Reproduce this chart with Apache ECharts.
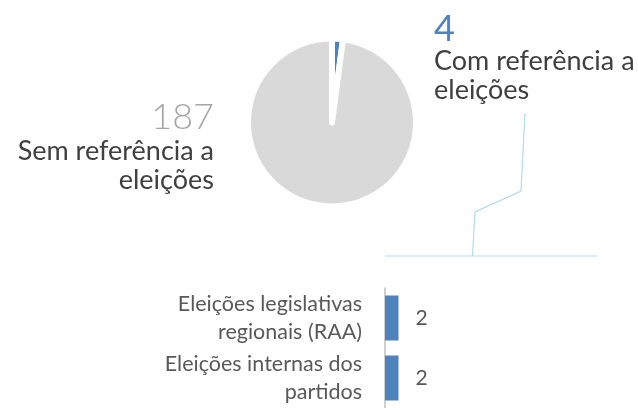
<!DOCTYPE html>
<html>
<head>
<meta charset="utf-8">
<script src="https://cdn.jsdelivr.net/npm/echarts@6/dist/echarts.min.js"></script>
<style>
  html, body { margin: 0; padding: 0; background: #ffffff; }
  #chart { width: 638px; height: 408px; }
</style>
</head>
<body>
<div id="chart"></div>
<script>
// Pie: news items with / without a reference to elections
const pieNames = ['Com referência a eleições', 'Sem referência a eleições'];
const pieValues = [4, 187];

// Breakdown of the items that mention elections
const barCategories = ['Eleições legislativas\nregionais (RAA)', 'Eleições internas dos\npartidos'];
const barValues = [2, 2];

const FONT = 'Lato';
const TEXT = '#404040';
const BLUE = '#4f81bd';
const GREY = '#d9d9d9';
const LINE = '#b4dce9';

const chart = echarts.init(document.getElementById('chart'), null, { renderer: 'canvas' });

function splitName(name) {
  // "Com referência a eleições" -> two lines: "Com referência a" / "eleições"
  const i = name.lastIndexOf(' ');
  return name.slice(0, i) + '\n' + name.slice(i + 1);
}

chart.setOption({
  animation: false,
  backgroundColor: '#ffffff',
  textStyle: { fontFamily: FONT },
  grid: { left: 385, top: 288, width: 200, height: 126, containLabel: false },
  xAxis: {
    type: 'value', min: 0, max: 2 * 200 / 13.5,
    show: false
  },
  yAxis: {
    type: 'category', data: barCategories, inverse: true,
    axisLine: { show: true, lineStyle: { color: '#bfbfbf', width: 1.5 } },
    axisTick: { show: false },
    axisLabel: {
      margin: 23, color: '#595959', fontFamily: FONT, fontWeight: 400,
      fontSize: 21.5, lineHeight: 28, align: 'right'
    }
  },
  graphic: [
    {
      type: 'polyline', silent: true,
      shape: { points: [[525, 113], [521, 191], [475, 212], [472.5, 256]] },
      style: { stroke: LINE, lineWidth: 1.2, fill: null }
    },
    {
      type: 'line', silent: true,
      shape: { x1: 385, y1: 256, x2: 597, y2: 256 },
      style: { stroke: LINE, lineWidth: 1.2 }
    }
  ],
  series: [
    {
      type: 'pie',
      center: [332, 122.5],
      radius: [0, 84],
      startAngle: 90,
      clockwise: true,
      data: pieNames.map((n, i) => ({ name: n, value: pieValues[i] })),
      itemStyle: { borderColor: '#ffffff', borderWidth: 6, borderJoin: 'round' },
      color: [BLUE, GREY],
      label: {
        show: true,
        formatter: p => (p.dataIndex === 0 ? '{numA|' : '{numB|') + p.value + '}\n{txt|' +
          splitName(p.name).split('\n').join('}\n{txt|') + '}',
        rich: {
          numA: { fontFamily: FONT, fontSize: 36, fontWeight: 400, color: BLUE, lineHeight: 36 },
          numB: { fontFamily: FONT, fontSize: 36, fontWeight: 300, color: '#a6a6a6', lineHeight: 40 },
          txt: { fontFamily: FONT, fontSize: 27, fontWeight: 400, color: TEXT, lineHeight: 29 }
        }
      },
      labelLine: { show: false },
      labelLayout: function (params) {
        if (params.dataIndex === 0) {
          return { x: 434, y: 11, align: 'left', verticalAlign: 'top' };
        }
        return { x: 214, y: 97, align: 'right', verticalAlign: 'top' };
      }
    },
    {
      type: 'bar',
      data: barValues,
      barWidth: 45,
      itemStyle: { color: BLUE },
      label: {
        show: true, position: 'right', distance: 17,
        color: '#595959', fontFamily: FONT, fontWeight: 400, fontSize: 21
      }
    }
  ]
});
</script>
</body>
</html>
